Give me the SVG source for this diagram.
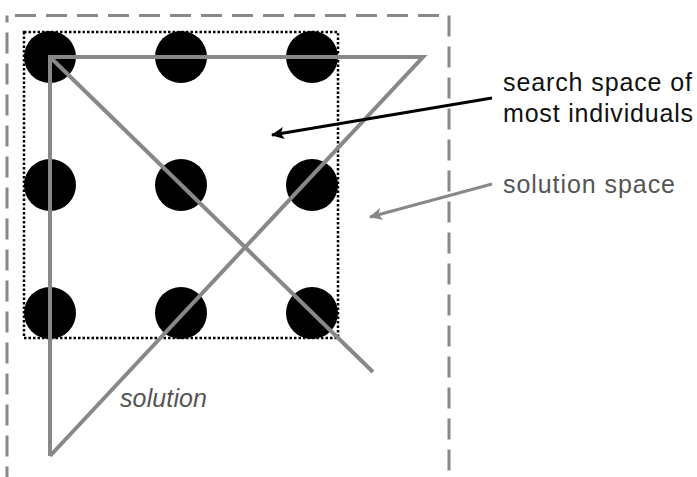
<svg xmlns="http://www.w3.org/2000/svg" width="697" height="477" viewBox="0 0 697 477">
<style>
.dot{fill:#000}
.sol{fill:none;stroke:#888;stroke-width:4;stroke-linejoin:miter}
.lbl{font-family:"Liberation Sans",Arial,sans-serif;font-size:25px}
</style>
<defs>
<marker id="ahB" markerUnits="userSpaceOnUse" markerWidth="14" markerHeight="12" refX="12" refY="6" orient="auto">
<path d="M0,0 L13,6 L0,12 L3,6 Z" fill="#000"/>
</marker>
<marker id="ahG" markerUnits="userSpaceOnUse" markerWidth="14" markerHeight="12" refX="12" refY="6" orient="auto">
<path d="M0,0 L13,6 L0,12 L3,6 Z" fill="#888"/>
</marker>
</defs>
<rect width="697" height="477" fill="#fff"/>
<g id="solution-space-box">
<rect x="7" y="15.5" width="442" height="480" fill="none" stroke="#888" stroke-width="3" stroke-dasharray="21 10" stroke-dashoffset="23"/>
</g>
<g id="search-space-box">
<rect x="24" y="32" width="314" height="306" fill="none" stroke="#000" stroke-width="2.5" stroke-dasharray="2.5 2"/>
</g>
<g id="dots">
<circle class="dot" cx="50" cy="57" r="26"/>
<circle class="dot" cx="181" cy="57" r="26"/>
<circle class="dot" cx="312" cy="57" r="26"/>
<circle class="dot" cx="50" cy="185" r="26"/>
<circle class="dot" cx="181" cy="185" r="26"/>
<circle class="dot" cx="312" cy="185" r="26"/>
<circle class="dot" cx="50" cy="313" r="26"/>
<circle class="dot" cx="181" cy="313" r="26"/>
<circle class="dot" cx="312" cy="313" r="26"/>
</g>
<g id="solution-path">
<path class="sol" d="M373,372 L50,57 M50,456 L50,57 L423,57 L50,456"/>
<text x="120" y="407" class="lbl" font-style="italic" fill="#555" textLength="87" lengthAdjust="spacing">solution</text>
</g>
<g id="connectors">
<line x1="492" y1="98" x2="272" y2="135" stroke="#000" stroke-width="3" marker-end="url(#ahB)"/>
<line x1="492" y1="184" x2="370" y2="217" stroke="#888" stroke-width="3" marker-end="url(#ahG)"/>
</g>
<g id="label-search">
<text x="503" y="91" class="lbl" fill="#111" textLength="189" lengthAdjust="spacing">search space of</text>
<text x="503" y="122" class="lbl" fill="#111" textLength="190" lengthAdjust="spacing">most individuals</text>
</g>
<g id="label-solution-space">
<text x="503" y="193" class="lbl" fill="#555" textLength="172" lengthAdjust="spacing">solution space</text>
</g>
</svg>
